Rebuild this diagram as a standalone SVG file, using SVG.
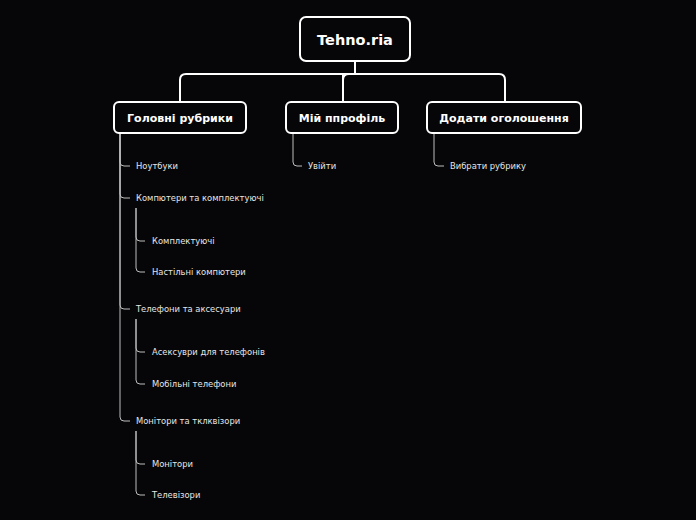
<svg xmlns="http://www.w3.org/2000/svg" width="696" height="520" viewBox="0 0 696 520">
<style>
.box{fill:#060608;stroke:#ffffff;stroke-width:2}
.t1{font-family:"DejaVu Sans",sans-serif;font-weight:bold;fill:#ffffff;text-anchor:middle}
.t2{font-family:"DejaVu Sans",sans-serif;font-size:8.4px;fill:#e6e6e6}
.main{fill:none;stroke:#ffffff;stroke-width:2}
.sub{fill:none;stroke:#bdbdbd;stroke-width:1}
</style>
<rect width="696" height="520" fill="#060608"/>
<g id="connectors">
<path class="main" d="M355 61 V74 M355 74 H186 Q180 74 180 80 V102 M343 74 Q343 74 343 80 V102 M355 74 H499 Q505 74 505 80 V102"/>
<path class="main" d="M355 74 H349 Q343 74 343 80"/>
<path class="sub" d="M120 133 V162 Q120 166 124 166 H130"/>
<path class="sub" d="M120 133 V194 Q120 198 124 198 H130"/>
<path class="sub" d="M120 133 V305 Q120 309 124 309 H130"/>
<path class="sub" d="M120 133 V417 Q120 421 124 421 H130"/>
<path class="sub" d="M136 208 V237 Q136 241 140 241 H145"/>
<path class="sub" d="M136 208 V268 Q136 272 140 272 H145"/>
<path class="sub" d="M136 319 V348 Q136 352 140 352 H145"/>
<path class="sub" d="M136 319 V380 Q136 384 140 384 H145"/>
<path class="sub" d="M136 431 V460 Q136 464 140 464 H145"/>
<path class="sub" d="M136 431 V491 Q136 495 140 495 H145"/>
<path class="sub" d="M293 133 V162 Q293 166 297 166 H302"/>
<path class="sub" d="M434 133 V162 Q434 166 438 166 H444"/>
</g>
<g id="root">
<rect class="box" x="300" y="17" width="110" height="44" rx="6"/>
<text class="t1" x="355" y="45" font-size="14.5">Tehno.ria</text>
</g>
<g id="n-golovni">
<rect class="box" x="114" y="102" width="132" height="31" rx="5"/>
<text class="t1" x="180" y="122" font-size="11">Головні рубрики</text>
</g>
<g id="n-profil">
<rect class="box" x="286" y="102" width="112" height="31" rx="5"/>
<text class="t1" x="342" y="122" font-size="11">Мій ппрофіль</text>
</g>
<g id="n-dodaty">
<rect class="box" x="427" y="102" width="154" height="31" rx="5"/>
<text class="t1" x="504" y="122" font-size="11">Додати оголошення</text>
</g>
<g id="c-noutbuky"><text class="t2" x="136" y="169">Ноутбуки</text></g>
<g id="c-kompiutery"><text class="t2" x="136" y="201">Компютери та комплектуючі</text></g>
<g id="c-komplektuiuchi"><text class="t2" x="152" y="244">Комплектуючі</text></g>
<g id="c-nastilni"><text class="t2" x="152" y="275">Настільні компютери</text></g>
<g id="c-telefony"><text class="t2" x="136" y="312">Телефони та аксесуари</text></g>
<g id="c-aksesuary"><text class="t2" x="152" y="355">Асексуври для телефонів</text></g>
<g id="c-mobilni"><text class="t2" x="152" y="387">Мобільні телефони</text></g>
<g id="c-monitory-tv"><text class="t2" x="136" y="424">Монітори та тклквізори</text></g>
<g id="c-monitory"><text class="t2" x="152" y="467">Монітори</text></g>
<g id="c-televizory"><text class="t2" x="152" y="498">Телевізори</text></g>
<g id="c-uviity"><text class="t2" x="308" y="169">Увійти</text></g>
<g id="c-vybraty"><text class="t2" x="450" y="169">Вибрати рубрику</text></g>
</svg>
